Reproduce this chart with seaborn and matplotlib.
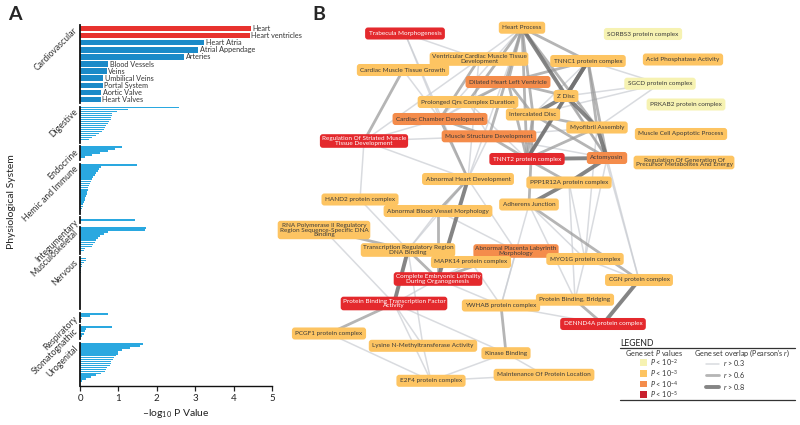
import matplotlib
matplotlib.use("Agg")
import matplotlib.pyplot as plt
from matplotlib.patches import Rectangle
import pandas as pd
import seaborn as sns

sns.set_style("white")
plt.rcParams["font.family"] = ["Lato", "DejaVu Sans"]
plt.rcParams["mathtext.fontset"] = "custom"
plt.rcParams["mathtext.rm"] = "Lato"
plt.rcParams["mathtext.it"] = "Lato:italic"
plt.rcParams["mathtext.bf"] = "Lato:bold"

# ---------------- panel A data ----------------
systems = ["Cardiovascular", "Digestive", "Endocrine", "Hemic and Immune",
           "Integumentary", "Musculoskeletal", "Nervous", "Respiratory",
           "Stomatognathic", "Urogenital"]

cardio_terms = ["Heart", "Heart ventricles", "Heart Atria", "Atrial Appendage",
                "Arteries", "Blood Vessels", "Veins", "Umbilical Veins",
                "Portal System", "Aortic Valve", "Heart Valves"]
cardio_vals = [4.46, 4.42, 3.24, 3.08, 2.72, 0.74, 0.70, 0.60, 0.59, 0.55, 0.54]
cardio_sig = ["sig", "sig", "ns", "ns", "ns", "ns", "ns", "ns", "ns", "ns", "ns"]

digestive = [2.57, 1.26, 0.96, 0.84, 0.83, 0.82, 0.80, 0.76, 0.72, 0.69,
             0.65, 0.62, 0.57, 0.50, 0.42, 0.30, 0.24, 0.0]
endocrine = [1.09, 0.91, 0.72, 0.52, 0.30, 0.12, 0.0]
hemic = [1.48, 0.54, 0.50, 0.46, 0.42, 0.38, 0.34, 0.31, 0.28, 0.26, 0.24,
         0.22, 0.20, 0.18, 0.17, 0.15, 0.14, 0.12, 0.10, 0.09, 0.07, 0.05,
         0.03, 0.0]
integumentary = [1.42]
musculoskeletal = [1.72, 1.70, 0.74, 0.62, 0.52, 0.46, 0.42, 0.38, 0.35,
                   0.30, 0.12, 0.10, 0.0]
nervous = [0.16, 0.15, 0.10, 0.06, 0.04, 0.03, 0.02, 0.02, 0.01, 0.01,
           0.0, 0.0, 0.0, 0.0, 0.0, 0.0, 0.0, 0.0, 0.0, 0.0, 0.0, 0.0,
           0.0, 0.0, 0.0, 0.0]
respiratory = [0.74, 0.26, 0.05, 0.0]
stomatognathic = [0.83, 0.16, 0.12, 0.10, 0.04, 0.0]
urogenital = [1.65, 1.55, 1.30, 1.09, 1.00, 0.98, 0.95, 0.88, 0.85, 0.82,
              0.80, 0.78, 0.70, 0.68, 0.66, 0.55, 0.42, 0.28, 0.15, 0.05,
              0.0, 0.0]

group_vals = [cardio_vals, digestive, endocrine, hemic, integumentary,
              musculoskeletal, nervous, respiratory, stomatognathic, urogenital]

# ---------------- panel B data ----------------
node_keys = ["TM", "HP", "SORBS3", "VCMTD", "CMTG", "TNNC1", "APA", "DHLV",
             "SGCD", "PQRS", "ZD", "PRKAB2", "CCD", "ID", "MA", "MCAP",
             "RSMTD", "MSD", "TNNT2", "ACT", "RGPM", "AHD", "PPP", "HAND2",
             "ABVM", "AJ", "RNAP", "TRR", "APLM", "MAPK", "MYO1G", "CEL",
             "CGN", "PBTF", "YWHAB", "PBB", "DEN", "PCGF1", "LYS", "KB",
             "MPL", "E2F4"]
node_labels = ["Trabecula Morphogenesis", "Heart Process", "SORBS3 protein complex",
               "Ventricular Cardiac Muscle Tissue\nDevelopment",
               "Cardiac Muscle Tissue Growth", "TNNC1 protein complex",
               "Acid Phosphatase Activity", "Dilated Heart Left Ventricle",
               "SGCD protein complex", "Prolonged Qrs Complex Duration", "Z Disc",
               "PRKAB2 protein complex", "Cardiac Chamber Development",
               "Intercalated Disc", "Myofibril Assembly",
               "Muscle Cell Apoptotic Process",
               "Regulation Of Striated Muscle\nTissue Development",
               "Muscle Structure Development", "TNNT2 protein complex",
               "Actomyosin",
               "Regulation Of Generation Of\nPrecursor Metabolites And Energy",
               "Abnormal Heart Development", "PPP1R12A protein complex",
               "HAND2 protein complex", "Abnormal Blood Vessel Morphology",
               "Adherens Junction",
               "RNA Polymerase II Regulatory\nRegion Sequence-Specific DNA\nBinding",
               "Transcription Regulatory Region\nDNA Binding",
               "Abnormal Placenta Labyrinth\nMorphology", "MAPK14 protein complex",
               "MYO1G protein complex",
               "Complete Embryonic Lethality\nDuring Organogenesis",
               "CGN protein complex",
               "Protein Binding Transcription Factor\nActivity",
               "YWHAB protein complex", "Protein Binding, Bridging",
               "DENND4A protein complex", "PCGF1 protein complex",
               "Lysine N-Methyltransferase Activity", "Kinase Binding",
               "Maintenance Of Protein Location", "E2F4 protein complex"]
# P value class: 2 -> P<1e-2, 3 -> P<1e-3, 4 -> P<1e-4, 5 -> P<1e-5
node_p = [5, 3, 2, 3, 3, 3, 3, 4, 2, 3, 3, 2, 4, 3, 3, 3, 5, 4, 5, 4, 3, 3,
          3, 3, 3, 3, 3, 3, 4, 3, 3, 5, 3, 5, 3, 3, 5, 3, 3, 3, 3, 3]

# network layout (pixel-like coordinates of panel B)
layout_x = [405, 522, 643, 479, 403, 588, 683, 508, 660, 468, 566, 686, 440,
            533, 597, 681, 364, 489, 527, 607, 684, 468, 569, 360, 438, 529,
            324, 408, 516, 471, 585, 438, 639, 394, 501, 575, 603, 329, 423,
            506, 544, 431]
layout_y = [33.5, 27.7, 34, 59, 70, 61, 59.5, 82, 83.7, 102, 96, 104.5, 119,
            114.5, 127.5, 134, 141, 136.3, 159, 158, 162.5, 179, 182.5, 199.5,
            211, 204.5, 230, 250, 251, 262, 259, 279, 280, 303.5, 305.5, 299.7,
            324, 333.5, 345.8, 353.2, 374.8, 380.8]

# gene set overlap (Pearson's r)
edges = [
    ("HP", "DHLV", 0.65), ("HP", "ZD", 0.85), ("HP", "TNNC1", 0.65),
    ("HP", "PQRS", 0.65), ("HP", "VCMTD", 0.35), ("HP", "ID", 0.65),
    ("HP", "MSD", 0.65), ("HP", "MA", 0.65), ("HP", "ACT", 0.35),
    ("HP", "TNNT2", 0.65), ("HP", "CCD", 0.35), ("HP", "AHD", 0.35),
    ("TNNC1", "ZD", 0.85), ("TNNC1", "MA", 0.65), ("TNNC1", "TNNT2", 0.85),
    ("TNNC1", "DHLV", 0.65), ("TNNC1", "ACT", 0.65), ("TNNC1", "ID", 0.35),
    ("ZD", "ID", 0.85), ("ZD", "MA", 0.85), ("ZD", "ACT", 0.65),
    ("ZD", "TNNT2", 0.65), ("ZD", "DHLV", 0.65), ("ID", "ACT", 0.65),
    ("ID", "MA", 0.65), ("ID", "DHLV", 0.65), ("ID", "TNNT2", 0.65),
    ("ID", "AJ", 0.65), ("MA", "ACT", 0.85), ("MA", "TNNT2", 0.65),
    ("MA", "SGCD", 0.35), ("TNNC1", "SGCD", 0.35), ("ZD", "SGCD", 0.35),
    ("ID", "SGCD", 0.35), ("DHLV", "PQRS", 0.65), ("DHLV", "TNNT2", 0.65),
    ("DHLV", "CCD", 0.35), ("PQRS", "TNNT2", 0.35), ("PQRS", "CCD", 0.35),
    ("PQRS", "MSD", 0.35), ("VCMTD", "CCD", 0.65), ("VCMTD", "TM", 0.35),
    ("VCMTD", "CMTG", 0.35), ("VCMTD", "RSMTD", 0.35), ("VCMTD", "AHD", 0.35),
    ("CMTG", "RSMTD", 0.65), ("CMTG", "CCD", 0.35), ("TM", "CCD", 0.35),
    ("TM", "AHD", 0.35), ("CCD", "MSD", 0.65), ("CCD", "AHD", 0.65),
    ("CCD", "RSMTD", 0.35), ("MSD", "AHD", 0.35), ("MSD", "TNNT2", 0.65),
    ("MSD", "ACT", 0.35), ("MSD", "MA", 0.35), ("RSMTD", "MSD", 0.35),
    ("RSMTD", "AHD", 0.35), ("TNNT2", "ACT", 0.85), ("TNNT2", "PPP", 0.65),
    ("ACT", "PPP", 0.85), ("PPP", "AJ", 0.85), ("PPP", "MYO1G", 0.35),
    ("PPP", "PBB", 0.35), ("ACT", "MYO1G", 0.35), ("ACT", "CGN", 0.35),
    ("MA", "MYO1G", 0.35), ("MA", "CGN", 0.35), ("AJ", "CGN", 0.65),
    ("AJ", "MYO1G", 0.35), ("AJ", "YWHAB", 0.35), ("AJ", "PBB", 0.35),
    ("AHD", "ABVM", 0.65), ("AHD", "CEL", 0.85), ("AHD", "APLM", 0.35),
    ("AHD", "TRR", 0.35), ("ABVM", "CEL", 0.65), ("ABVM", "APLM", 0.35),
    ("ABVM", "TRR", 0.35), ("APLM", "CEL", 0.65), ("APLM", "MAPK", 0.35),
    ("APLM", "YWHAB", 0.35), ("HAND2", "TRR", 0.35), ("HAND2", "RSMTD", 0.35),
    ("RNAP", "TRR", 0.65), ("RNAP", "PBTF", 0.35), ("TRR", "PBTF", 0.85),
    ("TRR", "CEL", 0.65), ("TRR", "LYS", 0.35), ("MAPK", "YWHAB", 0.35),
    ("MAPK", "CEL", 0.35), ("CEL", "PBTF", 0.35), ("CEL", "YWHAB", 0.35),
    ("PBTF", "PCGF1", 0.65), ("PBTF", "LYS", 0.35), ("PBTF", "E2F4", 0.35),
    ("PBTF", "KB", 0.35), ("YWHAB", "PBB", 0.65), ("YWHAB", "KB", 0.65),
    ("YWHAB", "DEN", 0.35), ("PBB", "DEN", 0.65), ("PBB", "MYO1G", 0.35),
    ("DEN", "CGN", 0.85), ("LYS", "E2F4", 0.35), ("KB", "E2F4", 0.35),
    ("E2F4", "MPL", 0.35), ("KB", "MPL", 0.35), ("PCGF1", "E2F4", 0.35),
    ("MYO1G", "CGN", 0.35),
]

p_colors = {2: "#f6f2b2", 3: "#fdc462", 4: "#f48c4b", 5: "#e4292d"}
legend_colors = ["#f6f2b2", "#fdc462", "#f48c4b", "#c8202e"]
red = "#e8322e"
blue_dark = "#1b8ac8"
blue_light = "#2aa8e0"

fig = plt.figure(figsize=(8, 4.25), dpi=100)

# ---------------- panel A ----------------
heights = [78, 36, 14, 50, 6, 27, 52, 9, 14, 43]
gs = fig.add_gridspec(len(systems), 1, left=0.1, right=0.34,
                      top=1 - 25 / 425, bottom=1 - 386 / 425,
                      height_ratios=heights, hspace=0.108)
last = len(systems) - 1
for k, (name, vals) in enumerate(zip(systems, group_vals)):
    ax = fig.add_subplot(gs[k])
    df = pd.DataFrame({"term": [f"{name}_{i}" for i in range(len(vals))],
                       "val": vals})
    if k == 0:
        df["sig"] = cardio_sig
        sns.barplot(data=df, x="val", y="term", hue="sig", orient="h",
                    palette={"sig": red, "ns": blue_dark}, dodge=False,
                    legend=False, width=0.78, saturation=1, linewidth=0,
                    ax=ax)
        for i, (t, v) in enumerate(zip(cardio_terms, cardio_vals)):
            ax.text(v + 0.04, i, t, va="center", ha="left", fontsize=5.2,
                    color="#333333", clip_on=False)
    else:
        w = 0.3 if len(vals) == 1 else 0.8
        sns.barplot(data=df, x="val", y="term", orient="h", color=blue_light,
                    width=w, saturation=1, linewidth=0, ax=ax)
    ax.set_xlim(0, 5)
    ax.set_ylabel("")
    ax.set_yticks([])
    for s in ["top", "right"]:
        ax.spines[s].set_visible(False)
    ax.spines["left"].set_color("#111111")
    ax.spines["left"].set_linewidth(1.3)
    if k == last:
        ax.spines["bottom"].set_color("#111111")
        ax.spines["bottom"].set_linewidth(1.0)
        ax.set_xticks([0, 1, 2, 3, 4, 5])
        ax.tick_params(axis="x", length=3.5, width=0.9, labelsize=7,
                       pad=2, colors="#222222", bottom=True)
        ax.set_xlabel("\u2013log$_{10}$ P Value", fontsize=7.5, labelpad=3,
                      color="#222222")
    else:
        ax.spines["bottom"].set_visible(False)
        ax.set_xticks([])
        ax.set_xlabel("")
    ax.annotate(name, xy=(0, 1), xycoords="axes fraction", xytext=(-2.5, -3),
                textcoords="offset points", rotation=45,
                rotation_mode="anchor", ha="right", va="center",
                fontsize=6.3, color="#333333")

fig.text(0.014, 0.526, "Physiological System", rotation=90, va="center",
         ha="center", fontsize=7.5, color="#222222")
fig.text(0.01, 0.985, "A", fontsize=14, fontweight="bold", va="top")
fig.text(0.391, 0.985, "B", fontsize=14, fontweight="bold", va="top")

# ---------------- panel B ----------------
axb = fig.add_axes([300 / 800, 0, 500 / 800, 1])
axb.set_xlim(300, 800)
axb.set_ylim(425, 0)
axb.axis("off")

pos = {k: (x, y) for k, x, y in zip(node_keys, layout_x, layout_y)}


def edge_style(r):
    if r > 0.8:
        return 2.8, "#707070", 0.85
    if r > 0.6:
        return 2.0, "#9c9c9c", 0.75
    return 1.1, "#c9ccd2", 0.7


for a, b, r in sorted(edges, key=lambda e: e[2]):
    lw, col, al = edge_style(r)
    axb.plot([pos[a][0], pos[b][0]], [pos[a][1], pos[b][1]], color=col,
             lw=lw, alpha=al, solid_capstyle="round", zorder=1)

for k, lab, p in zip(node_keys, node_labels, node_p):
    x, y = pos[k]
    nlines = lab.count("\n") + 1
    pad = 0.55 if nlines == 1 else 0.3
    axb.text(x, y, lab, ha="center", va="center", fontsize=4.6,
             linespacing=0.95, color="white" if p == 5 else "#3a3a3a",
             zorder=3,
             bbox=dict(boxstyle=f"round,pad={pad},rounding_size=0.45",
                       fc=p_colors[p], ec="none"))

# legend
axb.text(620, 343.5, "LEGEND", fontsize=6.2, va="center", ha="left",
         color="#222222")
axb.plot([620, 795], [348, 348], color="#333333", lw=0.9)
axb.plot([620, 795], [400, 400], color="#333333", lw=0.9)
axb.text(654, 353, "Gene set $P$ values", fontsize=5.2, ha="center",
         va="center", color="#333333")
axb.text(742, 353, "Gene set overlap (Pearson's $r$)", fontsize=5.2,
         ha="center", va="center", color="#333333")
p_texts = ["$P$ < 10$^{-2}$", "$P$ < 10$^{-3}$", "$P$ < 10$^{-4}$",
           "$P$ < 10$^{-5}$"]
for yy, c, t in zip([362.7, 373.3, 384, 394.5], legend_colors, p_texts):
    axb.add_patch(Rectangle((640, yy - 3.4), 6.8, 6.8, fc=c, ec="none"))
    axb.text(650, yy, t, fontsize=5.2, va="center", color="#333333")
for yy, r, t in zip([363.5, 374.5, 387], [0.35, 0.65, 0.85],
                    ["$r$ > 0.3", "$r$ > 0.6", "$r$ > 0.8"]):
    lw, col, al = edge_style(r)
    axb.plot([706, 719], [yy, yy], color=col, lw=lw, alpha=al,
             solid_capstyle="round")
    axb.text(723, yy, t, fontsize=5.2, va="center", color="#333333")

fig.savefig("out.png", dpi=100)
